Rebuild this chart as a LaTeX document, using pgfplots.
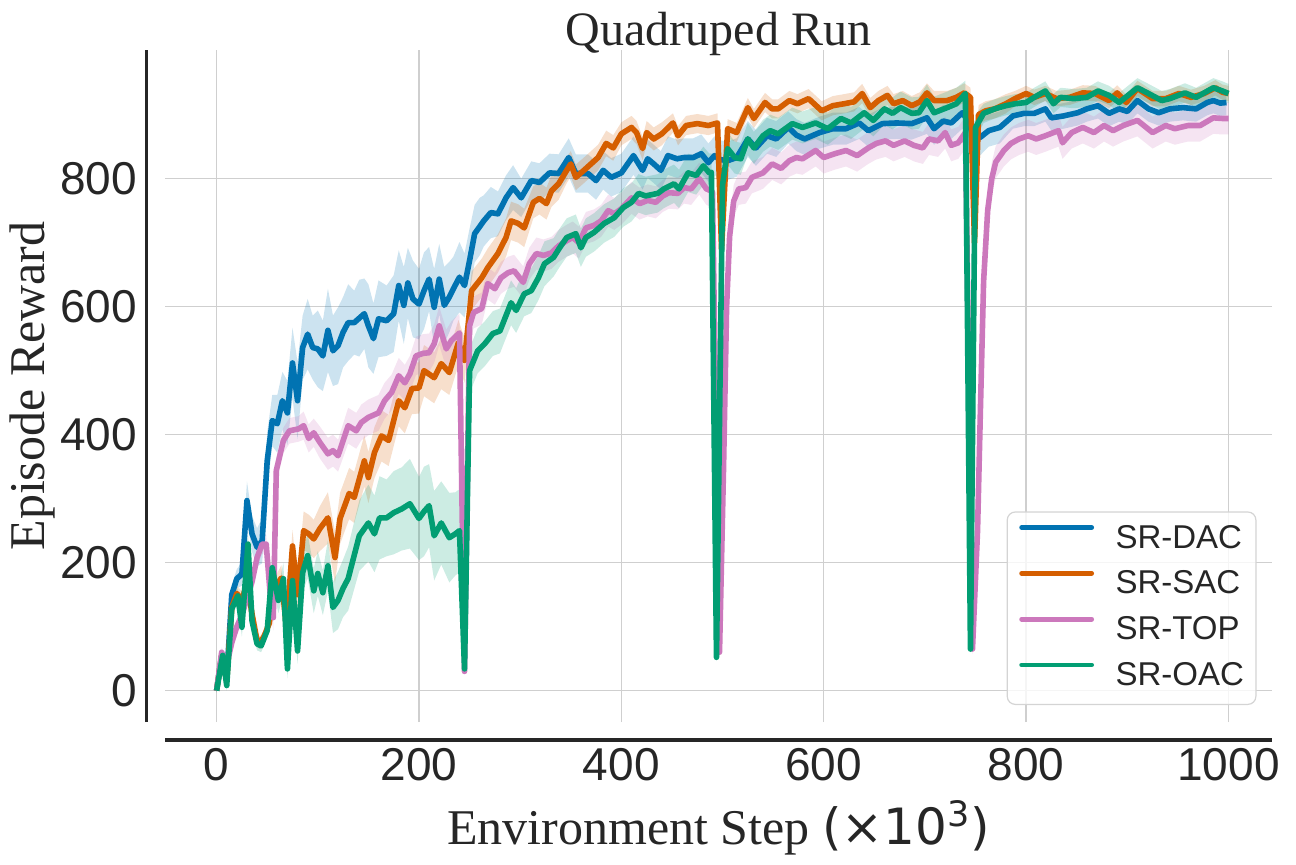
\documentclass[border=0pt]{standalone}
\usepackage{pgfplots}
\pgfplotsset{compat=1.18}
\usepackage{pgfplotstable}
\usepgfplotslibrary{fillbetween}
\usepackage{fontspec}
\setmainfont{Liberation Serif}
\newfontfamily\arial{Liberation Sans}
\newfontfamily\dejavu{DejaVu Sans}
\definecolor{cblue}{HTML}{0173B2}
\definecolor{corange}{HTML}{D55E00}
\definecolor{cpink}{HTML}{CC78BC}
\definecolor{cgreen}{HTML}{029E73}
\definecolor{txt}{HTML}{262626}

\pgfplotstableread{
x m s
0 0 3
5 55 8
10 20 8
15 150 15
20 175 15
25 182 18
30 297 30
35 245 28
40 224 30
45 234 35
50 359 45
55 422 40
60 417 45
65 453 45
70 434 50
75 512 55
80 453 60
85 536 50
90 557 55
95 536 50
100 534 60
105 523 55
110 563 65
115 531 55
120 539 60
125 560 55
130 575 60
136 575 50
141 582 60
146 589 55
150 570 65
155 550 55
160 581 60
168 578 55
175 589 60
180 633 55
185 602 60
189 637 55
194 612 60
200 604 55
205 625 60
210 643 50
215 599 60
220 643 55
225 602 60
230 615 55
234 628 50
240 646 55
245 633 50
250 672 50
255 714 45
260 725 45
264 734 40
271 747 40
278 745 35
286 770 35
293 786 35
301 770 30
311 797 30
319 794 30
329 809 30
338 808 30
348 833 30
355 808 30
367 808 30
375 797 30
382 813 30
390 802 30
400 809 30
412 836 30
421 813 30
426 831 30
432 823 30
439 813 30
446 836 30
455 831 30
462 833 30
471 833 30
479 839 30
486 825 30
492 836 30
497 830 30
505 828 30
514 833 30
525 862 28
533 848 28
544 867 28
553 862 28
565 880 25
573 868 25
581 862 25
596 872 25
609 878 25
622 878 25
635 887 25
644 875 25
658 886 25
672 887 25
687 886 25
702 895 25
709 878 25
718 890 25
726 887 25
737 903 25
744 887 25
748 860 30
755 865 28
763 875 25
774 880 25
787 898 20
798 902 20
808 902 20
819 909 20
825 895 20
837 898 20
851 903 20
860 909 20
871 914 20
882 902 20
892 909 20
900 905 20
910 922 20
921 909 20
931 903 20
942 909 20
955 911 20
968 909 20
979 919 20
985 922 20
992 918 20
998 919 20
}\dacdata

\pgfplotstableread{
x m s
0 0 3
5 55 8
10 15 8
15 130 12
20 152 12
25 140 15
30 170 15
35 120 15
40 78 10
43 75 10
47 85 10
52 105 12
57 160 15
64 176 20
69 98 20
75 226 25
80 150 25
86 250 30
91 245 30
96 237 30
102 253 35
110 270 40
117 208 40
122 269 40
131 308 40
136 302 40
146 359 40
150 333 40
156 372 40
163 398 40
170 391 40
180 453 40
186 442 40
193 472 40
200 473 40
205 500 40
215 489 40
222 511 40
230 497 35
239 544 35
245 516 35
252 625 30
257 635 30
262 645 30
268 661 30
278 683 30
286 708 30
291 734 30
298 730 30
304 723 30
313 763 25
319 769 25
326 761 25
331 781 25
338 792 25
346 813 20
350 823 20
355 802 20
363 813 20
370 823 20
377 833 20
385 855 20
392 848 20
400 870 18
410 880 18
415 872 18
421 847 18
425 872 18
432 862 18
440 870 18
451 887 15
456 867 15
464 883 15
475 886 15
486 883 15
495 887 15
499 690 30
505 878 15
514 872 15
525 911 15
531 894 15
542 919 15
549 909 15
555 909 15
566 922 15
574 917 15
585 925 15
598 906 15
609 914 15
620 917 15
630 920 15
638 933 15
646 911 15
654 922 15
663 930 15
669 917 15
678 922 15
687 914 15
695 920 15
702 934 15
709 922 15
722 922 15
731 927 15
739 934 15
745 927 15
749 700 30
753 900 15
760 906 15
769 909 15
780 917 15
789 925 12
800 933 12
808 927 12
819 933 12
830 925 12
843 927 12
856 934 12
868 933 12
882 922 12
890 934 12
899 919 12
910 941 12
925 925 12
938 925 12
951 933 12
963 927 12
976 933 12
987 942 12
994 935 12
1000 933 12
}\sacdata

\pgfplotstableread{
x m s
0 0 3
5 60 8
10 40 8
15 75 12
20 100 12
25 118 15
30 145 15
35 170 15
40 208 15
45 229 15
49 229 15
53 150 20
56 114 20
59 344 20
66 391 20
72 406 20
81 409 20
86 414 22
91 394 22
96 403 22
102 388 25
110 370 25
115 375 25
120 367 25
130 414 28
138 406 28
143 419 28
150 427 28
160 434 28
166 453 28
173 466 28
180 492 28
186 481 28
191 495 28
197 523 30
204 527 30
210 528 30
215 542 30
220 570 30
227 534 30
232 547 30
240 559 30
245 30 5
250 570 25
254 591 25
262 597 25
268 636 25
275 628 25
281 645 25
288 653 25
294 656 25
303 638 25
309 667 25
316 683 25
323 680 25
331 684 25
338 695 25
346 703 25
352 708 25
358 700 25
365 723 25
373 727 25
380 734 25
387 750 25
393 745 25
400 753 25
410 770 25
418 761 25
426 766 25
434 763 25
441 773 25
447 778 25
456 777 25
462 786 25
469 784 25
477 800 25
484 784 25
490 780 25
497 60 8
501 350 25
504 600 25
507 710 25
511 765 25
516 784 25
523 786 25
529 802 25
540 809 25
549 823 25
558 816 25
566 828 25
573 833 25
579 831 25
592 844 25
600 833 25
611 839 25
622 844 25
633 836 25
644 848 25
652 855 25
661 859 25
669 852 25
680 859 25
689 852 25
698 848 25
704 862 25
713 859 25
720 872 25
726 852 25
733 856 25
740 872 25
747 65 8
752 250 25
755 450 25
758 640 25
762 750 25
766 800 25
770 826 25
775 837 25
778 844 25
785 855 25
793 862 25
802 867 25
810 862 25
819 867 25
832 875 25
836 856 25
845 872 25
856 880 25
867 872 25
877 883 25
886 875 25
896 883 25
910 891 25
925 872 25
938 883 25
947 878 25
960 883 25
972 883 25
985 895 25
994 894 25
1000 894 25
}\topdata

\pgfplotstableread{
x m s
0 0 3
6 55 8
10 8 8
15 128 12
21 148 12
25 99 15
31 229 20
35 109 15
40 73 10
44 70 10
50 94 12
55 192 20
61 141 20
66 175 25
70 34 15
75 172 30
80 62 20
85 184 30
90 211 35
96 156 35
100 183 35
105 153 35
110 195 40
115 130 40
120 141 45
125 160 45
130 175 50
141 242 55
150 262 60
156 245 60
161 270 65
168 270 60
175 278 65
183 284 65
191 292 70
200 269 65
205 280 70
210 289 65
215 242 70
222 262 65
230 239 70
236 245 65
240 250 65
245 34 6
250 500 35
258 531 35
265 542 35
273 558 35
280 562 35
291 606 35
296 594 35
304 620 35
311 625 35
318 645 35
324 667 35
333 677 30
339 692 30
346 708 30
355 714 30
360 692 30
365 708 30
373 716 30
383 730 30
393 739 30
402 755 30
410 763 30
417 777 30
424 773 30
436 777 30
442 784 30
452 792 30
457 784 30
466 809 30
474 805 30
481 820 30
487 809 30
489 810 30
494 52 6
500 790 25
505 847 25
512 833 25
518 831 25
525 862 25
531 848 25
540 867 25
547 875 25
555 870 25
569 886 25
579 880 25
592 887 25
604 878 25
617 894 25
627 887 25
640 903 25
649 891 25
660 909 25
668 902 25
676 911 25
687 902 25
694 903 25
702 922 25
709 903 25
722 911 25
731 917 25
740 933 20
745 65 6
750 880 20
758 902 15
769 909 15
780 914 15
789 917 15
800 919 15
808 927 15
819 937 15
827 917 15
834 927 15
847 925 15
860 927 15
871 937 15
882 930 15
892 919 15
910 942 15
921 933 15
934 922 15
942 925 15
957 934 15
968 927 15
985 942 15
994 937 15
1000 933 15
}\oacdata

\begin{document}
\begin{tikzpicture}
\begin{axis}[
  at={(82.5pt,71pt)}, anchor=south west,
  scale only axis, width=553.5pt, height=336pt,
  xmin=-51, xmax=1043, ymin=-49, ymax=1001,
  xtick={0,200,...,1000}, ytick={0,200,...,800},
  axis line style={draw=none},
  major tick length=0pt,
  grid=major,
  major grid style={color=black!19, line width=0.7pt},
  /pgf/number format/assume math mode=true,
  /pgf/number format/1000 sep={},
  tick label style={font=\arial\fontsize{23}{27}\selectfont, text=txt, inner sep=0pt},
  xticklabel style={anchor=north, yshift=-13pt},
  yticklabel style={anchor=east, xshift=-13.75pt},
  title={Quadruped Run},
  title style={at={(axis description cs:0.5,1.0074)}, anchor=base, yshift=-6pt, font=\fontsize{24}{28}\selectfont, text=txt, inner sep=0pt},
  xlabel={Environment Step {\dejavu(×10\textsuperscript{3})}},
  xlabel style={at={(axis description cs:0.5,-0.183)}, anchor=base, font=\fontsize{25}{30}\selectfont, text=txt, inner sep=0pt},
  ylabel={Episode Reward},
  ylabel style={at={(axis description cs:-0.1093,0.5)}, anchor=base, font=\fontsize{25}{30}\selectfont, text=txt, inner sep=0pt},
  legend style={at={(0.986,0.0253)}, anchor=south east,
    draw=black!17, line width=0.6pt, rounded corners=4pt,
    fill=white, fill opacity=0.8, text opacity=1,
    font=\arial\fontsize{16.5}{20}\selectfont, text=txt,
    inner xsep=6pt, inner ysep=6pt, row sep=7.4pt,
    nodes={inner sep=0pt, text height=12pt, text depth=3.5pt},
    /tikz/every odd column/.append style={column sep=10.75pt}},
  legend cell align=left,
  legend image code/.code={\draw[#1, line width=2.4pt, line cap=round] (0pt,6pt) -- (35pt,6pt);},
]
% bands
\addplot[draw=none, name path=dacU, forget plot] table[x=x, y expr=\thisrow{m}+\thisrow{s}] {\dacdata};
\addplot[draw=none, name path=dacL, forget plot] table[x=x, y expr=\thisrow{m}-\thisrow{s}] {\dacdata};
\addplot[fill=cblue, fill opacity=0.2, draw=none, forget plot] fill between[of=dacU and dacL];
\addplot[draw=none, name path=sacU, forget plot] table[x=x, y expr=\thisrow{m}+\thisrow{s}] {\sacdata};
\addplot[draw=none, name path=sacL, forget plot] table[x=x, y expr=\thisrow{m}-\thisrow{s}] {\sacdata};
\addplot[fill=corange, fill opacity=0.2, draw=none, forget plot] fill between[of=sacU and sacL];
\addplot[draw=none, name path=topU, forget plot] table[x=x, y expr=\thisrow{m}+\thisrow{s}] {\topdata};
\addplot[draw=none, name path=topL, forget plot] table[x=x, y expr=\thisrow{m}-\thisrow{s}] {\topdata};
\addplot[fill=cpink, fill opacity=0.2, draw=none, forget plot] fill between[of=topU and topL];
\addplot[draw=none, name path=oacU, forget plot] table[x=x, y expr=\thisrow{m}+\thisrow{s}] {\oacdata};
\addplot[draw=none, name path=oacL, forget plot] table[x=x, y expr=\thisrow{m}-\thisrow{s}] {\oacdata};
\addplot[fill=cgreen, fill opacity=0.2, draw=none, forget plot] fill between[of=oacU and oacL];
% lines
\addplot[cblue, line width=2.8pt, line join=round] table[x=x, y=m] {\dacdata};
\addplot[corange, line width=2.8pt, line join=round] table[x=x, y=m] {\sacdata};
\addplot[cpink, line width=2.8pt, line join=round] table[x=x, y=m] {\topdata};
\addplot[cgreen, line width=2.8pt, line join=round] table[x=x, y=m] {\oacdata};
\legend{SR-DAC,SR-SAC,SR-TOP,SR-OAC}
\end{axis}
% offset spines
\draw[txt, line width=1.75pt] ([xshift=-9.25pt]current axis.south west) -- ([xshift=-9.25pt]current axis.north west);
\draw[txt, line width=1.75pt] ([yshift=-9pt]current axis.south west) -- ([yshift=-9pt]current axis.south east);
\pgfresetboundingbox
\path[use as bounding box] (0,0) rectangle (648pt,432pt);
\end{tikzpicture}
\end{document}
